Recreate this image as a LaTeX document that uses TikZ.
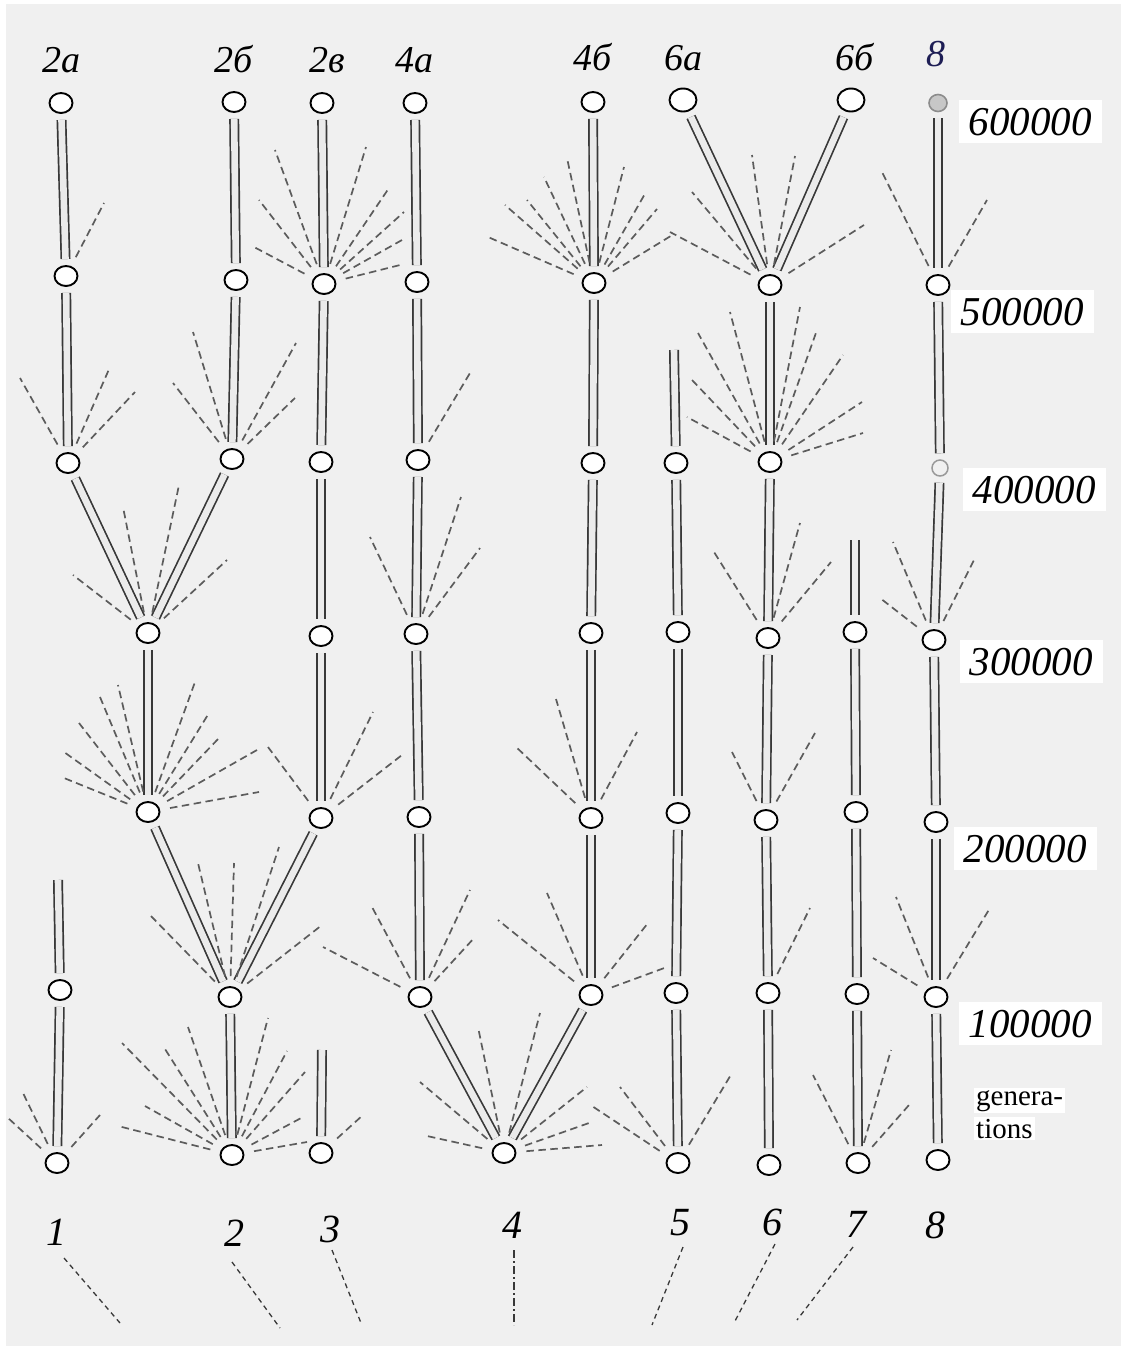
\documentclass[tikz,border=0pt]{standalone}
\usepackage{fontspec}
\setmainfont{Liberation Serif}
\usetikzlibrary{shapes.geometric}
\definecolor{bggray}{RGB}{240,240,240}
\definecolor{navylab}{RGB}{30,30,85}
\newcommand\fanfrom[2]{\foreach \fanx/\fany [count=\fancnt] in {#2} {\coordinate (#1-f\fancnt) at (\fanx,\fany); \draw[fanline] (#1) -- (#1-f\fancnt);}}
\begin{document}
\begin{tikzpicture}[x=1pt,y=-1pt,
  pnode/.style={ellipse, draw=black, line width=1.9pt, fill=white, minimum width=23pt, minimum height=20pt, inner sep=0pt},
  bignode/.style={pnode, minimum width=27pt, minimum height=23pt},
  gnode/.style={ellipse, draw=black!45, line width=1.6pt, fill=black!22, minimum width=18pt, minimum height=17pt, inner sep=0pt},
  gsmall/.style={ellipse, draw=black!40, line width=1.5pt, fill=black!6, minimum width=16pt, minimum height=16pt, inner sep=0pt},
  stem/.style={draw=black!78, line width=1.7pt, double=black!8, double distance=6.6pt, shorten <=6pt, shorten >=6pt},
  fanline/.style={draw=black!64, line width=1.7pt, dash pattern=on 7.5pt off 4.5pt, shorten <=10pt},
  leader/.style={draw=black!78, line width=1.3pt, dash pattern=on 5pt off 4pt},
  toplab/.style={font=\fontsize{38}{44}\selectfont\itshape, anchor=base, inner sep=0pt},
  botlab/.style={font=\fontsize{40}{46}\selectfont\itshape, anchor=base, inner sep=0pt},
  rightlab/.style={font=\fontsize{41}{48}\selectfont\itshape, anchor=base, fill=white, inner xsep=10pt, inner ysep=8pt},
  genlab/.style={font=\fontsize{29}{33}\selectfont, anchor=base west, fill=white, inner sep=2pt}]
\useasboundingbox (0,0) rectangle (1127,1350);
\fill[white] (0,0) rectangle (1127,1350);
\fill[bggray] (6,4) rectangle (1121,1346);

% labels
\node[toplab] (t2a) at (61,72) {2а};
\node[toplab] (t2b) at (234,72) {2б};
\node[toplab] (t2v) at (327,72) {2в};
\node[toplab] (t4a) at (414,72) {4а};
\node[toplab] (t4b) at (593,70) {4б};
\node[toplab] (t6a) at (683,70) {6а};
\node[toplab] (t6b) at (855,70) {6б};
\node[toplab, text=navylab] (t8) at (936,66) {8};

\node[rightlab] (r6) at (1030,135) {600000};
\node[rightlab] (r5) at (1022,325) {500000};
\node[rightlab] (r4) at (1034,503) {400000};
\node[rightlab] (r3) at (1031,675) {300000};
\node[rightlab] (r2) at (1025,862) {200000};
\node[rightlab] (r1) at (1030,1037) {100000};
\node[genlab] (g1) at (974,1105) {genera-};
\node[genlab] (g2) at (974,1138) {tions};

\node[botlab] (l1) at (56,1245) {1};
\node[botlab] (l2) at (234,1246) {2};
\node[botlab] (l3) at (330,1242) {3};
\node[botlab] (l4) at (512,1238) {4};
\node[botlab] (l5) at (680,1235) {5};
\node[botlab] (l6) at (772,1235) {6};
\node[botlab] (l7) at (856,1237) {7};
\node[botlab] (l8) at (935,1238) {8};

% nodes: 600000
\node[pnode] (n2a6) at (61,103) {};
\node[pnode] (n2b6) at (234,102) {};
\node[pnode] (n2v6) at (322,103) {};
\node[pnode] (n4a6) at (415,103) {};
\node[pnode] (n4b6) at (593,102) {};
\node[bignode] (n6a6) at (683,100) {};
\node[bignode] (n6b6) at (851,100) {};
\node[gnode] (n86) at (938,103) {};
% 500000
\node[pnode] (n2a5) at (66,276) {};
\node[pnode] (n2b5) at (236,280) {};
\node[pnode] (n2v5) at (324,284) {};
\node[pnode] (n4a5) at (417,282) {};
\node[pnode] (n4b5) at (594,283) {};
\node[pnode] (n65) at (770,285) {};
\node[pnode] (n85) at (938,285) {};
% 400000
\node[pnode] (n2a4) at (68,463) {};
\node[pnode] (n2b4) at (232,459) {};
\node[pnode] (n2v4) at (321,462) {};
\node[pnode] (n4a4) at (418,460) {};
\node[pnode] (n4b4) at (593,463) {};
\node[pnode] (n54) at (676,463) {};
\node[pnode] (n64) at (770,462) {};
\node[gsmall] (n84) at (940,468) {};
% 300000
\node[pnode] (nm3) at (148,633) {};
\node[pnode] (n2v3) at (321,636) {};
\node[pnode] (n4a3) at (416,634) {};
\node[pnode] (n4b3) at (591,633) {};
\node[pnode] (n53) at (678,632) {};
\node[pnode] (n63) at (768,638) {};
\node[pnode] (n73) at (855,632) {};
\node[pnode] (n83) at (934,640) {};
% 200000
\node[pnode] (nm2) at (148,812) {};
\node[pnode] (n2v2) at (321,818) {};
\node[pnode] (n4a2) at (419,817) {};
\node[pnode] (n4b2) at (591,818) {};
\node[pnode] (n52) at (678,813) {};
\node[pnode] (n62) at (766,820) {};
\node[pnode] (n72) at (856,812) {};
\node[pnode] (n82) at (936,822) {};
% 100000
\node[pnode] (n11) at (60,990) {};
\node[pnode] (n21) at (230,997) {};
\node[pnode] (n4a1) at (420,997) {};
\node[pnode] (n4b1) at (591,995) {};
\node[pnode] (n51) at (676,993) {};
\node[pnode] (n61) at (768,993) {};
\node[pnode] (n71) at (857,994) {};
\node[pnode] (n81) at (936,997) {};
% bottom
\node[pnode] (n10) at (57,1163) {};
\node[pnode] (n20) at (232,1155) {};
\node[pnode] (n30) at (321,1153) {};
\node[pnode] (n40) at (504,1153) {};
\node[pnode] (n50) at (678,1163) {};
\node[pnode] (n60) at (769,1165) {};
\node[pnode] (n70) at (858,1163) {};
\node[pnode] (n80) at (938,1160) {};

% free stem tops
\coordinate (c1top) at (58,880);
\coordinate (c3top) at (322,1050);
\coordinate (c5top) at (674,350);
\coordinate (c7top) at (855,540);

% stems
\foreach \a/\b in {n2a6/n2a5, n2a5/n2a4, n2a4/nm3, n2b6/n2b5, n2b5/n2b4, n2b4/nm3,
  nm3/nm2, nm2/n21, n21/n20,
  n2v6/n2v5, n2v5/n2v4, n2v4/n2v3, n2v3/n2v2, n2v2/n21,
  n4a6/n4a5, n4a5/n4a4, n4a4/n4a3, n4a3/n4a2, n4a2/n4a1, n4a1/n40,
  n4b6/n4b5, n4b5/n4b4, n4b4/n4b3, n4b3/n4b2, n4b2/n4b1, n4b1/n40,
  n6a6/n65, n6b6/n65, n65/n64, n64/n63, n63/n62, n62/n61, n61/n60,
  n54/n53, n53/n52, n52/n51, n51/n50,
  n73/n72, n72/n71, n71/n70,
  n86/n85, n85/n84, n84/n83, n83/n82, n82/n81, n81/n80,
  n11/n10}
  \draw[stem] (\a) -- (\b);
\draw[stem, shorten <=0pt] (c1top) -- (n11);
\draw[stem, shorten <=0pt] (c3top) -- (n30);
\draw[stem, shorten <=0pt] (c5top) -- (n54);
\draw[stem, shorten <=0pt] (c7top) -- (n73);

% dashed fans
\fanfrom{n2a5}{104/203}
\fanfrom{n2a4}{20/378, 110/367, 135/392}
\fanfrom{n2b4}{193/332, 173/383, 296/343, 295/398}
\fanfrom{n2v5}{275/150, 259/200, 254/247, 366/147, 389/188, 404/212, 402/240, 400/265}
\fanfrom{n4a4}{470/373}
\fanfrom{n4b5}{488/237, 505/205, 527/200, 544/177, 567/158, 624/167, 646/192, 657/209, 674/234}
\fanfrom{n65}{752/155, 692/192, 670/232, 795/156, 864/225}
\fanfrom{n85}{882/172, 987/200}
\fanfrom{n64}{730/312, 698/333, 692/380, 687/417, 800/307, 817/330, 843/355, 862/402, 863/433}
\fanfrom{nm3}{123/507, 179/485, 73/575, 227/560}
\fanfrom{n4a3}{370/537, 461/497, 480/548}
\fanfrom{n63}{714/552, 800/523, 831/562}
\fanfrom{n83}{893/542, 880/598, 974/560}
\fanfrom{nm2}{118/685, 100/697, 79/723, 64/752, 64/778, 195/682, 209/713, 220/737, 257/750, 259/792}
\fanfrom{n2v2}{268/747, 373/712, 402/755}
\fanfrom{n4b2}{515/746, 556/699, 637/732}
\fanfrom{n62}{732/752, 815/733}
\fanfrom{n21}{148/913, 198/863, 234/863, 279/847, 322/925}
\fanfrom{n4a1}{372/907, 470/890, 475/937, 323/947}
\fanfrom{n4b1}{547/893, 498/920, 648/923, 667/967}
\fanfrom{n61}{810/908}
\fanfrom{n81}{896/897, 873/958, 990/908}
\fanfrom{n10}{7/1117, 23/1093, 100/1115}
\fanfrom{n20}{122/1043, 165/1049, 188/1027, 145/1106, 118/1126, 268/1018, 287/1051, 305/1072, 303/1117, 307/1142}
\fanfrom{n30}{363/1115}
\fanfrom{n40}{420/1082, 478/1027, 427/1136, 540/1013, 587/1087, 589/1123, 602/1145}
\fanfrom{n50}{620/1087, 592/1106, 732/1073}
\fanfrom{n70}{813/1075, 891/1050, 909/1105}

% leader lines below the bottom labels
\coordinate (b1s) at (64,1258);  \coordinate (b1e) at (120,1323);
\coordinate (b2s) at (232,1262); \coordinate (b2e) at (280,1328);
\coordinate (b3s) at (332,1250); \coordinate (b3e) at (361,1323);
\coordinate (b4s) at (514,1250); \coordinate (b4e) at (514,1325);
\coordinate (b5s) at (683,1247); \coordinate (b5e) at (652,1325);
\coordinate (b6s) at (775,1244); \coordinate (b6e) at (734,1323);
\coordinate (b7s) at (853,1247); \coordinate (b7e) at (797,1320);
\draw[leader] (b1s) -- (b1e);
\draw[leader] (b2s) -- (b2e);
\draw[leader] (b3s) -- (b3e);
\draw[leader, dash pattern=on 8pt off 3pt on 2pt off 3pt] (b4s) -- (b4e);
\draw[leader] (b5s) -- (b5e);
\draw[leader] (b6s) -- (b6e);
\draw[leader] (b7s) -- (b7e);
\end{tikzpicture}
\end{document}
